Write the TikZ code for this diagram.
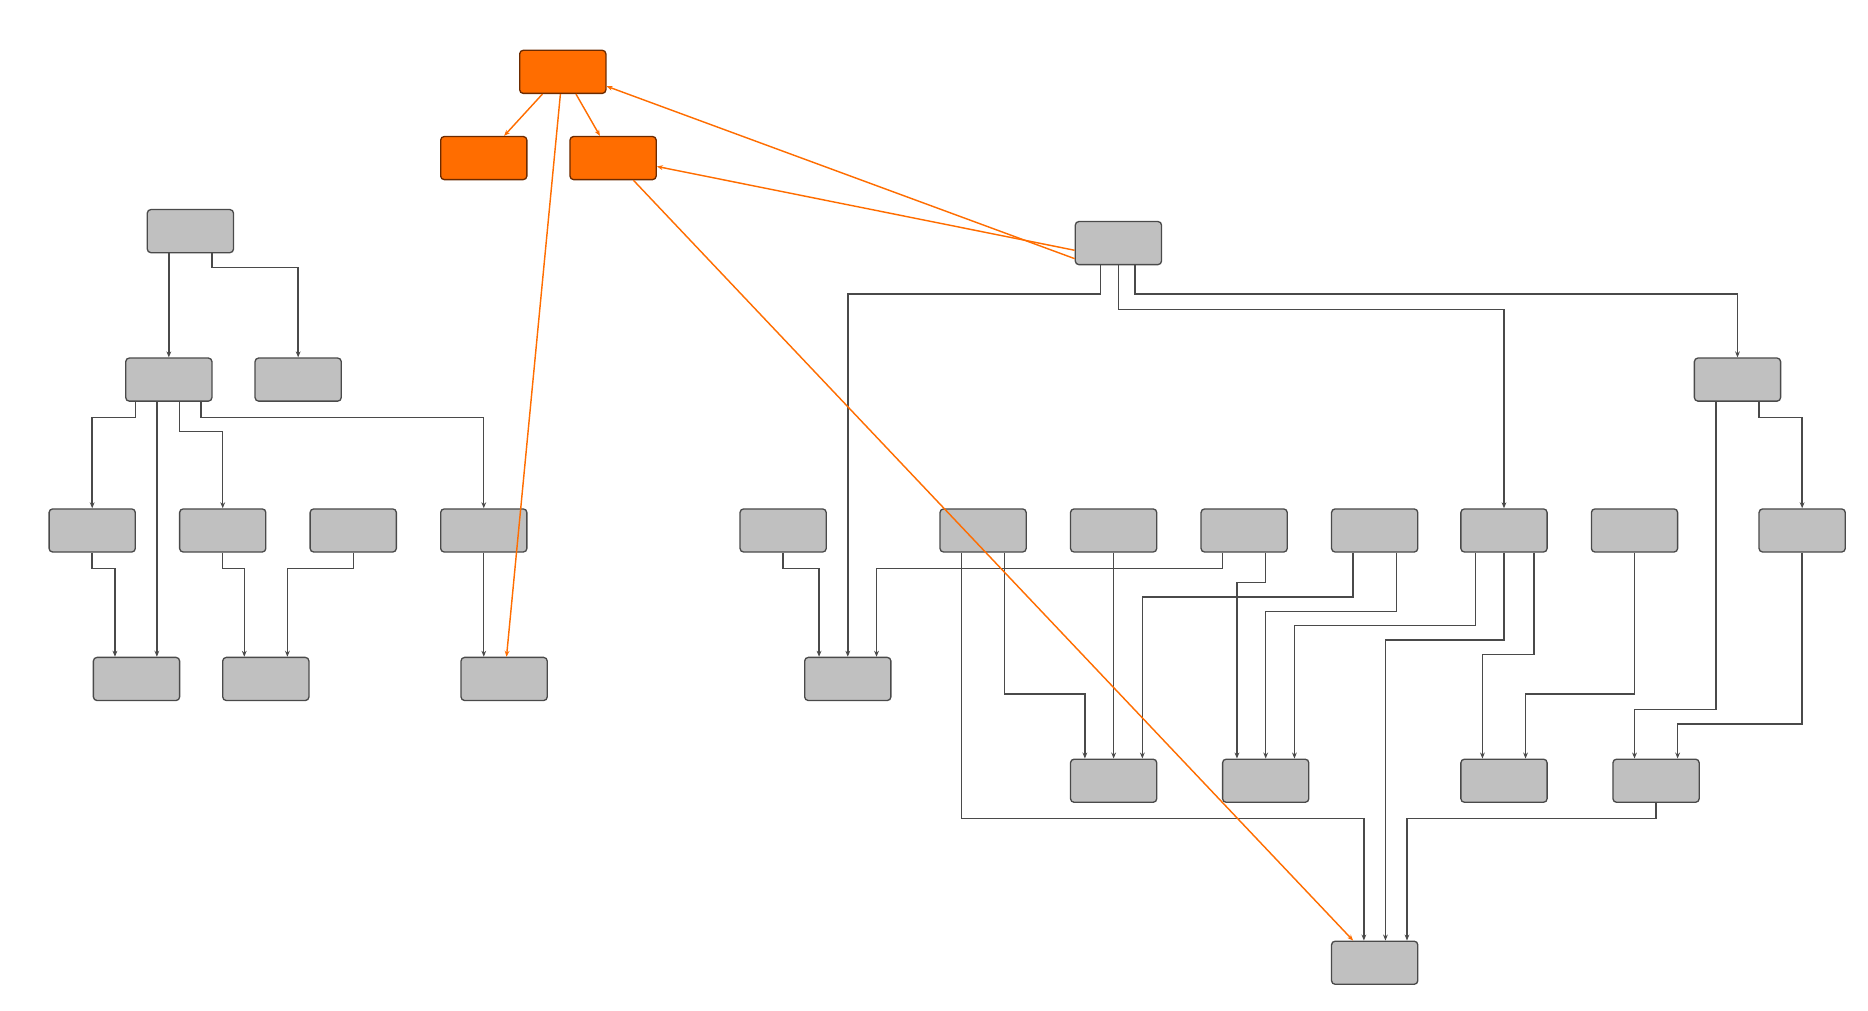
\documentclass[tikz,border=0pt]{standalone}
\usetikzlibrary{arrows.meta}
\definecolor{boxfill}{HTML}{C0C0C0}
\definecolor{boxline}{HTML}{4A4A4A}
\definecolor{hot}{HTML}{FF6D00}
\definecolor{hotline}{HTML}{6B2A00}
\tikzset{
  box/.style={draw=boxline, fill=boxfill, rounded corners=3pt, line width=1.1pt,
    minimum width=72pt, minimum height=36pt, inner sep=0pt},
  hbox/.style={box, draw=hotline, fill=hot},
  edge/.style={draw=boxline, line width=1.2pt, -{Stealth[length=5pt,width=4pt]}},
  hedge/.style={draw=hot, line width=1.2pt, -{Stealth[length=5pt,width=4pt]}},
}
\begin{document}
\begin{tikzpicture}[x=1pt,y=-1pt]
  \useasboundingbox (0,0) rectangle (1560,844);
  % highlighted group
  \node[hbox] (o1) at (470,60) {};
  \node[hbox] (o2) at (404,132) {};
  \node[hbox] (o3) at (512,132) {};
  % left tree
  \node[box] (a) at (159,193) {};
  \node[box] (b) at (141,317) {};
  \node[box] (c) at (249,317) {};
  \node[box] (d1) at (77,443) {};
  \node[box] (d2) at (186,443) {};
  \node[box] (d3) at (295,443) {};
  \node[box] (d4) at (404,443) {};
  \node[box] (e1) at (114,567) {};
  \node[box] (e2) at (222,567) {};
  \node[box] (e3) at (421,567) {};
  % right tree
  \node[box] (r) at (934,203) {};
  \node[box] (s) at (1451,317) {};
  \node[box] (f1) at (654,443) {};
  \node[box] (f2) at (821,443) {};
  \node[box] (f3) at (930,443) {};
  \node[box] (f4) at (1039,443) {};
  \node[box] (f5) at (1148,443) {};
  \node[box] (f6) at (1256,443) {};
  \node[box] (f7) at (1365,443) {};
  \node[box] (f8) at (1505,443) {};
  \node[box] (g) at (708,567) {};
  \node[box] (h1) at (930,652) {};
  \node[box] (h2) at (1057,652) {};
  \node[box] (h3) at (1256,652) {};
  \node[box] (h4) at (1383,652) {};
  \node[box] (k) at (1148,804) {};

  % left connectors
  \draw[edge] ([xshift=-18]a.south) -- ([xshift=0]b.north);
  \draw[edge] ([xshift=18]a.south) -- ++(0,12) -| (c.north);
  \draw[edge] ([xshift=-28]b.south) -- ++(0,13) -| (d1.north);
  \draw[edge] ([xshift=-10]b.south) -- ([xshift=17]e1.north);
  \draw[edge] ([xshift=9]b.south) -- ++(0,25) -| (d2.north);
  \draw[edge] ([xshift=27]b.south) -- ++(0,13) -| (d4.north);
  \draw[edge] (d1.south) -- ++(0,13) -| ([xshift=-18]e1.north);
  \draw[edge] (d2.south) -- ++(0,13) -| ([xshift=-18]e2.north);
  \draw[edge] (d3.south) -- ++(0,13) -| ([xshift=18]e2.north);
  \draw[edge] (d4.south) -- ([xshift=-17]e3.north);

  % right connectors
  \draw[edge] ([xshift=-15]r.south) -- ++(0,24) -| (g.north);
  \draw[edge] (r.south) -- ++(0,37) -| (f6.north);
  \draw[edge] ([xshift=14]r.south) -- ++(0,24) -| (s.north);
  \draw[edge] ([xshift=-18]s.south) -- ++(0,257) -| ([xshift=-18]h4.north);
  \draw[edge] ([xshift=18]s.south) -- ++(0,13) -| (f8.north);
  \draw[edge] (f1.south) -- ++(0,13) -| ([xshift=-24]g.north);
  \draw[edge] ([xshift=-18]f4.south) -- ++(0,13) -| ([xshift=24]g.north);
  \draw[edge] ([xshift=18]f4.south) -- ++(0,25) -| ([xshift=-24]h2.north);
  \draw[edge] ([xshift=-18]f5.south) -- ++(0,37) -| ([xshift=24]h1.north);
  \draw[edge] ([xshift=18]f5.south) -- ++(0,49) -| (h2.north);
  \draw[edge] ([xshift=-24]f6.south) -- ++(0,61) -| ([xshift=24]h2.north);
  \draw[edge] (f6.south) -- ++(0,73) -| ([xshift=9]k.north);
  \draw[edge] ([xshift=25]f6.south) -- ++(0,85) -| ([xshift=-18]h3.north);
  \draw[edge] (f7.south) -- ++(0,118) -| ([xshift=18]h3.north);
  \draw[edge] (f8.south) -- ++(0,143) -| ([xshift=18]h4.north);
  \draw[edge] ([xshift=-18]f2.south) -- ++(0,222) -| ([xshift=-9]k.north);
  \draw[edge] ([xshift=18]f2.south) -- ++(0,118) -| ([xshift=-24]h1.north);
  \draw[edge] (f3.south) -- (h1.north);
  \draw[edge] (h4.south) -- ++(0,13) -| ([xshift=27]k.north);

  % highlighted connectors
  \draw[hedge] ([xshift=-17]o1.south) -- ([xshift=17]o2.north);
  \draw[hedge] ([xshift=11]o1.south) -- ([xshift=-11]o3.north);
  \draw[hedge] ([xshift=-2]o1.south) -- ([xshift=2]e3.north);
  \draw[hedge] ([yshift=-13]r.west) -- ([yshift=-12]o1.east);
  \draw[hedge] ([yshift=-6]r.west) -- ([yshift=-7]o3.east);
  \draw[hedge] ([xshift=17]o3.south) -- ([xshift=-18]k.north);
\end{tikzpicture}
\end{document}
